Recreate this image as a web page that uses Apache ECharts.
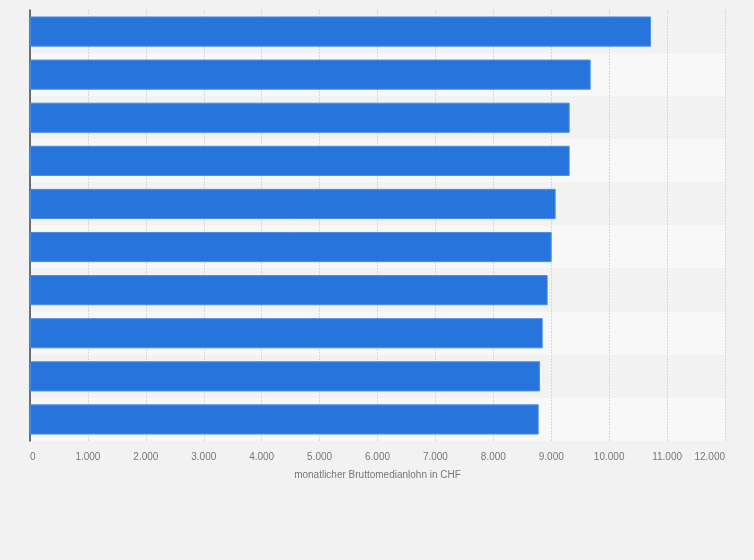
<!DOCTYPE html>
<html>
<head>
<meta charset="utf-8">
<script src="https://cdn.jsdelivr.net/npm/echarts@6/dist/echarts.min.js"></script>
<style>
html,body{margin:0;padding:0;background:#f2f2f2;}
#chart{width:754px;height:560px;}
</style>
</head>
<body>
<div id="chart"></div>
<script>
// Kategorien (im Original ohne sichtbare Beschriftung)
var categories = ['1', '2', '3', '4', '5', '6', '7', '8', '9', '10'];
// monatlicher Bruttomedianlohn in CHF
var values = [10722, 9681, 9318, 9318, 9076, 9007, 8938, 8852, 8805, 8783];
var xTicks = {min: 0, max: 12000, step: 1000};
var axisName = 'monatlicher Bruttomedianlohn in CHF';

function fmt(v){
	return String(v).replace(/\B(?=(\d{3})+(?!\d))/g, '.');
}

var myChart = echarts.init(document.getElementById('chart'));
var option = {
	backgroundColor: '#f2f2f2',
	animation: false,
	grid: {left: 30, right: 29, top: 10, bottom: 119, containLabel: false},
	xAxis: {
		type: 'value',
		min: xTicks.min,
		max: xTicks.max,
		interval: xTicks.step,
		name: axisName,
		nameLocation: 'middle',
		nameGap: 29,
		nameTextStyle: {color: '#777', fontSize: 10, fontFamily: 'Liberation Sans'},
		axisLine: {show: false},
		axisTick: {show: false},
		axisLabel: {
			color: '#777', fontSize: 10, fontFamily: 'Liberation Sans', margin: 11,
			alignMinLabel: 'left', alignMaxLabel: 'right',
			formatter: fmt
		},
		splitLine: {show: true, lineStyle: {color: '#d8d8d8', type: [2, 1], width: 1}}
	},
	yAxis: {
		type: 'category',
		data: categories,
		inverse: true,
		axisLine: {show: true, lineStyle: {color: '#444', width: 1.5}},
		axisTick: {show: false},
		axisLabel: {show: false},
		splitLine: {show: false},
		splitArea: {show: true, areaStyle: {color: ['#f2f2f2', '#f8f8f8']}}
	},
	series: [{
		type: 'bar',
		data: values,
		barCategoryGap: '30%',
		itemStyle: {color: '#2775dc', borderColor: '#4a8ee6', borderWidth: 1},
		z: 3
	}]
};
myChart.setOption(option);
</script>
</body>
</html>
